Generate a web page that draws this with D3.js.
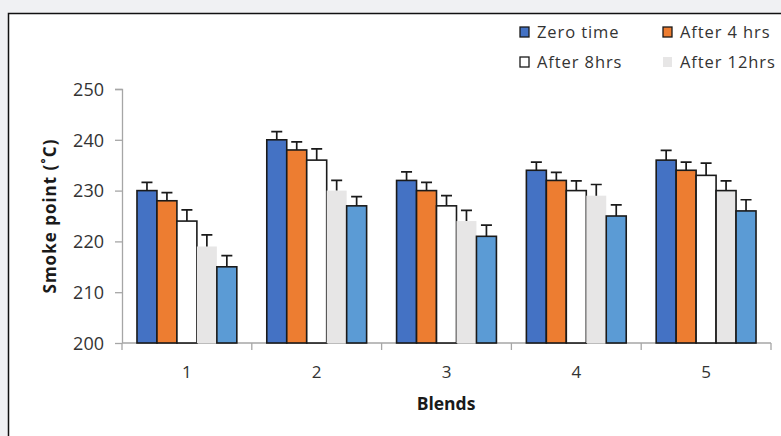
<!DOCTYPE html>
<html>
<head>
<meta charset="utf-8">
<script src="https://cdn.jsdelivr.net/npm/d3@7"></script>
<style>
  html, body { margin: 0; padding: 0; background: #f0f1f3; }
  svg { display: block; }
  text { font-family: "Open Sans", "Noto Sans", sans-serif; }
</style>
</head>
<body>
<svg id="chart"></svg>
<script>
// data
var blends = ["1", "2", "3", "4", "5"];
var series = ["Zero time", "After 4 hrs", "After 8hrs", "After 12hrs", "After 16hrs"];
var colors = ["#4472C4", "#ED7D31", "#FFFFFF", "#E7E6E6", "#5B9BD5"];
var values = [
    [230, 228, 224, 219, 215],
    [240, 238, 236, 230, 227],
    [232, 230, 227, 224, 221],
    [234, 232, 230, 229, 225],
    [236, 234, 233, 230, 226]
];
var errors = [
    [1.6, 1.6, 2.2, 2.3, 2.2],
    [1.6, 1.6, 2.2, 2.0, 1.8],
    [1.7, 1.6, 2.0, 2.1, 2.2],
    [1.6, 1.6, 1.9, 2.2, 2.2],
    [1.9, 1.6, 2.4, 1.9, 2.2]
];
var yTicks = [200, 210, 220, 230, 240, 250];
var legendItems = ["Zero time", "After 4 hrs", "After 8hrs", "After 12hrs"];

var W = 781, H = 436;
var margin = { top: 89, right: 10, bottom: 93, left: 122 },
    width = 771 - margin.left,
    height = 343 - margin.top;

var svg = d3.select("#chart")
    .attr("width", W)
    .attr("height", H);

// chart frame, cut off at right and bottom
svg.append("rect")
    .attr("x", 8.5)
    .attr("y", 13.5)
    .attr("width", W)
    .attr("height", H)
    .attr("fill", "#fff")
    .attr("stroke", "#111")
    .attr("stroke-width", 1.5);

var chart = svg.append("g")
    .attr("transform", "translate(" + margin.left + "," + margin.top + ")");

var x0 = d3.scaleBand().domain(blends).range([0, width]).padding(0);
var x1 = d3.scaleBand().domain(series).range([0, x0.bandwidth()])
    .paddingInner(0).paddingOuter(0.75);
var y = d3.scaleLinear().domain([200, 250]).range([height, 0]);

// y axis
var yAxis = d3.axisLeft(y).tickValues(yTicks).tickSize(7).tickPadding(11);
var gy = chart.append("g").attr("class", "y axis").call(yAxis);
gy.select(".domain").attr("stroke", "#a6a6a6").attr("stroke-width", 1.3)
    .attr("d", "M-7,0.5H0.5V" + height);
gy.selectAll(".tick line").attr("stroke", "#a6a6a6").attr("stroke-width", 1.3);
gy.selectAll(".tick text").attr("fill", "#333").style("font-size", "18px")
    .attr("dy", "0.35em");

// x axis with ticks between categories
var gx = chart.append("g").attr("class", "x axis")
    .attr("transform", "translate(0," + height + ")");
gx.append("line").attr("x1", 0).attr("x2", width).attr("y1", 0).attr("y2", 0)
    .attr("stroke", "#a6a6a6").attr("stroke-width", 1.3);
var bounds = blends.map(function(d) { return x0(d); }).concat([width]);
gx.selectAll(".sep").data(bounds).enter().append("line")
    .attr("x1", function(d) { return d; })
    .attr("x2", function(d) { return d; })
    .attr("y1", 0).attr("y2", 7)
    .attr("stroke", "#a6a6a6").attr("stroke-width", 1.3);
gx.selectAll(".lbl").data(blends).enter().append("text")
    .attr("x", function(d) { return x0(d) + x0.bandwidth() / 2; })
    .attr("y", 29)
    .attr("dy", "0.35em")
    .attr("text-anchor", "middle")
    .attr("fill", "#333")
    .style("font-size", "17px")
    .text(function(d) { return d; });

// bars
var groups = chart.selectAll(".blend")
    .data(values)
    .enter().append("g")
    .attr("class", "blend")
    .attr("transform", function(d, i) { return "translate(" + x0(blends[i]) + ",0)"; });

groups.each(function(row, bi) {
    var g = d3.select(this);
    row.forEach(function(v, si) {
        // light gray bars are drawn without outline except in the last group
        var noStroke = si === 3 && bi < blends.length - 1;
        g.append("rect")
            .attr("x", x1(series[si]))
            .attr("y", y(v))
            .attr("width", x1.bandwidth())
            .attr("height", height - y(v))
            .attr("fill", colors[si])
            .attr("stroke", noStroke ? "none" : "#1a1a1a")
            .attr("stroke-width", 1.6);
    });
    // error bars on top
    row.forEach(function(v, si) {
        var cx = x1(series[si]) + x1.bandwidth() / 2;
        var top = y(v + errors[bi][si]);
        var cap = 5.5;
        g.append("path")
            .attr("d", "M" + cx + "," + y(v) + "V" + top + "M" + (cx - cap) + "," + top + "H" + (cx + cap))
            .attr("stroke", "#1a1a1a")
            .attr("stroke-width", 1.7)
            .attr("fill", "none");
    });
});

// axis titles
svg.append("text")
    .attr("transform", "translate(50," + (margin.top + height / 2) + ") rotate(-90)")
    .attr("text-anchor", "middle")
    .attr("dy", "0.35em")
    .attr("fill", "#1a1a1a")
    .style("font-size", "17px")
    .style("font-weight", "bold")
    .style("letter-spacing", "1px")
    .text("Smoke point (˚C)");

svg.append("text")
    .attr("x", 446)
    .attr("y", 404)
    .attr("dy", "0.35em")
    .attr("text-anchor", "middle")
    .attr("fill", "#1a1a1a")
    .style("font-size", "17.5px")
    .style("font-weight", "bold")
    .text("Blends");

// legend
var legend = svg.append("g").attr("class", "legend");
var legX = [520, 663], legY = [32, 62];
legendItems.forEach(function(name, i) {
    var lx = legX[i % 2], ly = legY[Math.floor(i / 2)];
    legend.append("rect")
        .attr("x", lx)
        .attr("y", ly - 5)
        .attr("width", 9)
        .attr("height", 10)
        .attr("fill", colors[i])
        .attr("stroke", i === 3 ? "none" : "#1a1a1a")
        .attr("stroke-width", 1.3);
    legend.append("text")
        .attr("x", lx + 17)
        .attr("y", ly)
        .attr("dy", "0.35em")
        .attr("fill", "#333")
        .style("font-size", "16.5px")
        .style("letter-spacing", "0.9px")
        .text(name);
});
</script>
</body>
</html>
